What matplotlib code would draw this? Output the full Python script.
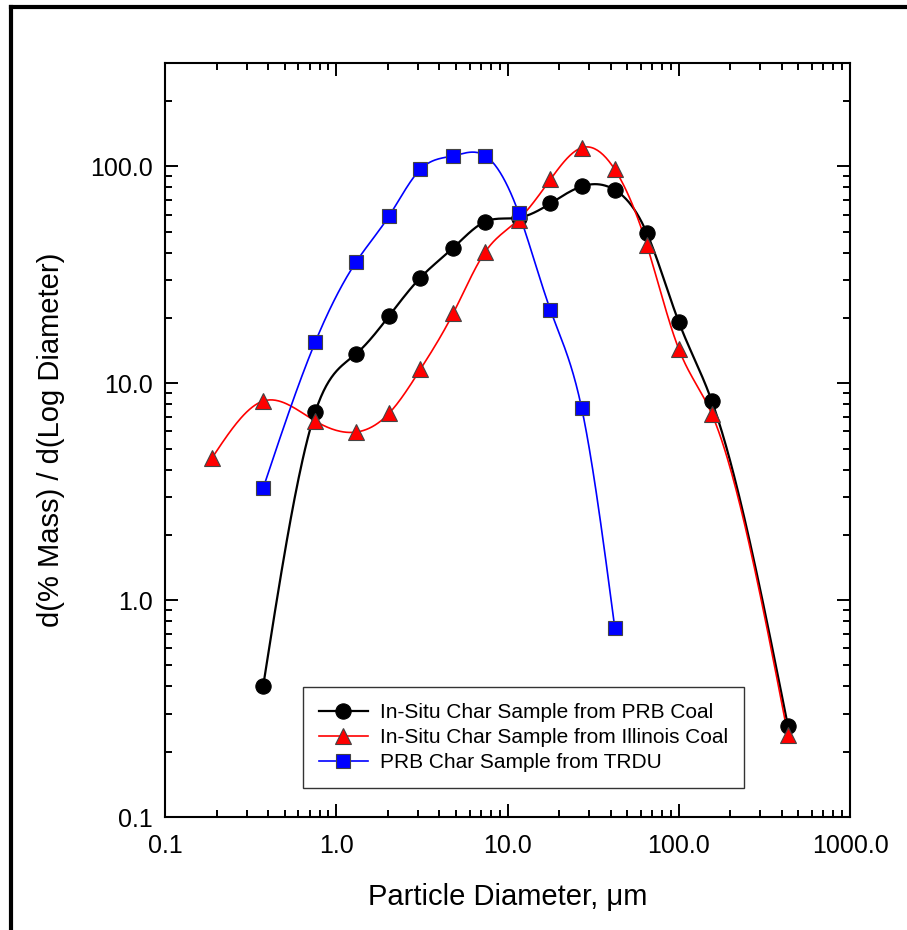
import numpy as np
import matplotlib
matplotlib.use("Agg")
import matplotlib.pyplot as plt
from matplotlib.lines import Line2D
from matplotlib.ticker import LogLocator, FixedLocator, FixedFormatter, NullFormatter

plt.rcParams['font.family'] = ['Liberation Sans', 'DejaVu Sans']

# ---- data ----
diam = [0.374, 0.754, 1.31, 2.04, 3.10, 4.83, 7.43, 11.6, 17.8, 27.1, 42.3, 65.0, 100.0, 156.0, 434.0]
prb_coal = [0.40, 7.37, 13.7, 20.5, 30.7, 42.2, 55.7, 58.0, 67.5, 80.9, 78.0, 49.5, 19.2, 8.28, 0.263]

diam_ill = [0.188, 0.374, 0.754, 1.31, 2.04, 3.10, 4.83, 7.43, 11.6, 17.8, 27.1, 42.3, 65.0, 100.0, 156.0, 434.0]
illinois = [4.52, 8.28, 6.70, 5.96, 7.29, 11.6, 21.1, 40.5, 56.9, 87.1, 122.0, 96.9, 43.6, 14.4, 7.21, 0.239]

diam_trdu = [0.374, 0.754, 1.31, 2.04, 3.10, 4.83, 7.43, 11.6, 17.8, 27.1, 42.3]
trdu = [3.28, 15.5, 36.4, 59.3, 97.0, 112.0, 112.0, 61.3, 21.8, 7.69, 0.747]

labels = ["In-Situ Char Sample from PRB Coal",
          "In-Situ Char Sample from Illinois Coal",
          "PRB Char Sample from TRDU"]

x_ticks = [0.1, 1.0, 10.0, 100.0, 1000.0]
x_ticklabels = ["0.1", "1.0", "10.0", "100.0", "1000.0"]
y_ticks = [0.1, 1.0, 10.0, 100.0]
y_ticklabels = ["0.1", "1.0", "10.0", "100.0"]


def smooth_curve(x, y, n=400):
    """Natural cubic spline drawn through the points in log-log space."""
    lx = np.log10(np.asarray(x, float))
    ly = np.log10(np.asarray(y, float))
    m = len(lx)
    h = np.diff(lx)
    A = np.zeros((m, m))
    r = np.zeros(m)
    A[0, 0] = 1.0
    A[-1, -1] = 1.0
    for i in range(1, m - 1):
        A[i, i - 1] = h[i - 1]
        A[i, i] = 2 * (h[i - 1] + h[i])
        A[i, i + 1] = h[i]
        r[i] = 6 * ((ly[i + 1] - ly[i]) / h[i] - (ly[i] - ly[i - 1]) / h[i - 1])
    M = np.linalg.solve(A, r)
    xs = np.linspace(lx[0], lx[-1], n)
    ys = np.empty_like(xs)
    for k, xv in enumerate(xs):
        i = min(np.searchsorted(lx, xv, side='right') - 1, m - 2)
        i = max(i, 0)
        t1 = lx[i + 1] - xv
        t0 = xv - lx[i]
        hi = h[i]
        ys[k] = (M[i] * t1 ** 3 / (6 * hi) + M[i + 1] * t0 ** 3 / (6 * hi)
                 + (ly[i] / hi - M[i] * hi / 6) * t1
                 + (ly[i + 1] / hi - M[i + 1] * hi / 6) * t0)
    return 10 ** xs, 10 ** ys


fig = plt.figure(figsize=(9.07, 9.30), dpi=100)
ax = fig.add_axes([165 / 907, 1 - 817 / 930, (850 - 165) / 907, (817 - 63) / 930])

series = [
    (diam, prb_coal, 'black', 'o', 'black', 11, 1.6),
    (diam_ill, illinois, '#ff0000', '^', '#444444', 11, 1.2),
    (diam_trdu, trdu, '#0000ff', 's', '#444444', 10, 1.2),
]

handles = []
for (xd, yd, col, mk, mec, ms, lw), lab in zip(series, labels):
    sx, sy = smooth_curve(xd, yd)
    ax.plot(sx, sy, color=col, lw=lw, zorder=2)
    ax.plot(xd, yd, linestyle='none', marker=mk, markersize=ms,
            markerfacecolor=col, markeredgecolor=mec, markeredgewidth=0.8, zorder=3)
    handles.append(Line2D([0], [0], color=col, lw=lw, marker=mk, markersize=ms,
                          markerfacecolor=col, markeredgecolor=mec, markeredgewidth=0.8))

ax.set_xscale('log')
ax.set_yscale('log')
ax.set_xlim(0.1, 1000)
ax.set_ylim(0.1, 300)

ax.xaxis.set_major_locator(FixedLocator(x_ticks))
ax.xaxis.set_major_formatter(FixedFormatter(x_ticklabels))
ax.yaxis.set_major_locator(FixedLocator(y_ticks))
ax.yaxis.set_major_formatter(FixedFormatter(y_ticklabels))
ax.xaxis.set_minor_locator(LogLocator(base=10, subs=np.arange(2, 10), numticks=20))
ax.yaxis.set_minor_locator(LogLocator(base=10, subs=np.arange(2, 10), numticks=20))
ax.xaxis.set_minor_formatter(NullFormatter())
ax.yaxis.set_minor_formatter(NullFormatter())

ax.tick_params(which='both', direction='in', top=True, right=True, width=1.4, colors='black')
ax.tick_params(which='major', length=9.5, labelsize=18, pad=9)
ax.tick_params(which='minor', length=5)
ax.tick_params(axis='x', which='major', pad=12)
for s in ax.spines.values():
    s.set_linewidth(1.5)

ax.set_xlabel("Particle Diameter, \u03bcm", fontsize=21)
ax.set_ylabel("d(% Mass) / d(Log Diameter)", fontsize=21)
ax.xaxis.set_label_coords(0.5, -(897 - 817) / 754, transform=ax.transAxes)
ax.yaxis.set_label_coords(-(165 - 51) / 685, 0.5, transform=ax.transAxes)
ax.xaxis.label.set_va('center')
ax.yaxis.label.set_va('center')

leg = ax.legend(handles, labels, loc='lower left',
                bbox_to_anchor=((303 - 165) / 685, (817 - 788) / 754),
                borderaxespad=0, fontsize=15, frameon=True, fancybox=False,
                edgecolor='black', handlelength=2.35, handletextpad=0.6,
                labelspacing=0.3, borderpad=0.75)
leg.get_frame().set_linewidth(1.0)

# outer frame (top and left)
fig.add_artist(Line2D([11 / 907, 11 / 907], [0, 1 - 7.5 / 930], color='black', lw=3,
                      transform=fig.transFigure, solid_capstyle='projecting'))
fig.add_artist(Line2D([11 / 907, 1], [1 - 7.5 / 930, 1 - 7.5 / 930], color='black', lw=3,
                      transform=fig.transFigure, solid_capstyle='projecting'))

fig.savefig("out.png", dpi=100)
